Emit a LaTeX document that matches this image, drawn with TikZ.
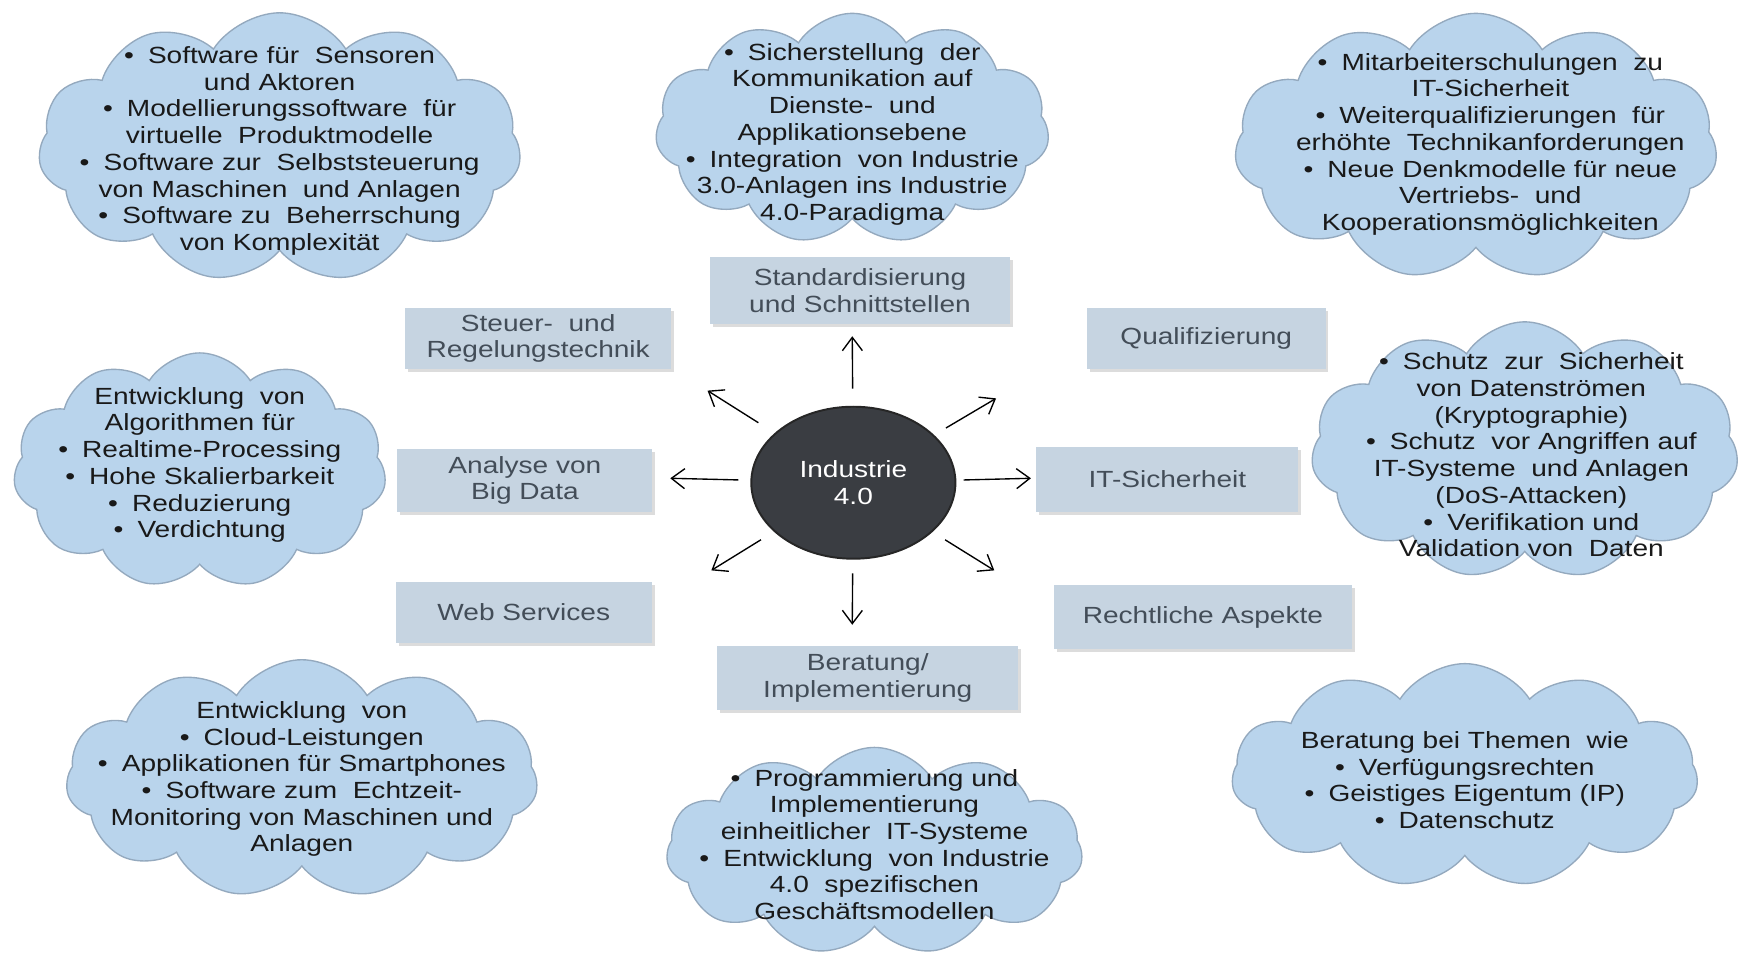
\documentclass[tikz,border=0pt]{standalone}
\usepackage{fontspec}
\setmainfont[FakeStretch = 1.2]{Liberation Sans}
\usepackage{xcolor}
\usepackage{tikz}
\usetikzlibrary{shapes.symbols,shapes.geometric,shadows,arrows.meta}

\definecolor{cloudfill}{HTML}{B9D4EC}
\definecolor{cloudline}{HTML}{94A9BE}
\definecolor{boxfill}{HTML}{C6D4E1}
\definecolor{boxtext}{HTML}{434D58}
\definecolor{indfill}{HTML}{3A3D42}

\newcommand{\bul}{\textbullet\hspace{.6em}}

\tikzset{
  wolke/.style = {cloud, cloud puffs = 11, cloud puff arc = 115, draw = cloudline,
    fill = cloudfill, line width = .7pt, inner sep = 0pt},
  wolketext/.style = {align = center, text = black!90},
  thema/.style = {rectangle, fill = boxfill, text = boxtext, align = center,
    drop shadow = {shadow xshift = 1.5pt, shadow yshift = -1.5pt, fill = black!45, opacity = .3}},
  pfeil/.style = {-{Straight Barb[length = 2.4mm, width = 3.6mm]}, line width = .7pt},
}

\begin{document}
\begin{tikzpicture}[x = 0.02cm, y = -0.02cm, font = \fontsize{12}{13.7}\selectfont]

    \fill[white] (0,0) rectangle (1568,862);
    \useasboundingbox (0,0) rectangle (1568,862);

    % Center
    \node[ellipse, fill = indfill, draw = black!85, line width = 1pt, minimum width = 3.68cm,
      minimum height = 2.74cm, text = white, align = center] (ind) at (769,435) {Industrie\\4.0};

    % Topics
    \node[thema, minimum width = 5.4cm, minimum height = 1.2cm] (std) at (775,262) {Standardisierung\\und Schnittstellen};
    \node[thema, minimum width = 4.8cm, minimum height = 1.1cm] (steuer) at (485,305) {Steuer- \ und\\Regelungstechnik};
    \node[thema, minimum width = 4.3cm, minimum height = 1.1cm] (quali) at (1087,305) {Qualifizierung};
    \node[thema, minimum width = 4.6cm, minimum height = 1.14cm] (bigdata) at (473,433) {Analyse von\\Big Data};
    \node[thema, minimum width = 4.72cm, minimum height = 1.18cm] (itsec) at (1052,432) {IT-Sicherheit};
    \node[thema, minimum width = 4.62cm, minimum height = 1.1cm] (web) at (472,552) {Web Services};
    \node[thema, minimum width = 5.36cm, minimum height = 1.16cm] (recht) at (1084,556) {Rechtliche Aspekte};
    \node[thema, minimum width = 5.42cm, minimum height = 1.14cm] (berat) at (782,611) {Beratung/\\Implementierung};

    % Arrow tips
    \coordinate (pN) at (768,303);
    \coordinate (pS) at (768,563);
    \coordinate (pW) at (604,431);
    \coordinate (pE) at (929,431);
    \coordinate (pNW) at (637.6,352);
    \coordinate (pNE) at (897.6,359);
    \coordinate (pSW) at (641,514);
    \coordinate (pSE) at (896,514);

    \draw[pfeil, shorten <= 8.8pt] (ind) -- (pN);
    \draw[pfeil, shorten <= 7pt] (ind) -- (pS);
    \draw[pfeil, shorten <= 6.2pt] (ind) -- (pW);
    \draw[pfeil, shorten <= 3.7pt] (ind) -- (pE);
    \draw[pfeil, shorten <= 9.9pt] (ind) -- (pNW);
    \draw[pfeil, shorten <= 7pt] (ind) -- (pNE);
    \draw[pfeil, shorten <= 7.8pt] (ind) -- (pSW);
    \draw[pfeil, shorten <= 7.6pt] (ind) -- (pSE);

    % Clouds
    \node[wolke, minimum width = 8.7cm, minimum height = 4.86cm] (cTL) at (252,133) {};
    \node[wolke, minimum width = 7.1cm, minimum height = 4.16cm] (cTM) at (768,116) {};
    \node[wolke, minimum width = 8.7cm, minimum height = 4.8cm] (cTR) at (1330,132) {};
    \node[wolke, minimum width = 6.72cm, minimum height = 4.24cm] (cML) at (180,424) {};
    \node[wolke, minimum width = 7.7cm, minimum height = 4.64cm] (cMR) at (1374,406) {};
    \node[wolke, minimum width = 8.5cm, minimum height = 4.3cm] (cBL) at (272,702) {};
    \node[wolke, minimum width = 7.5cm, minimum height = 3.74cm] (cBM) at (788,767) {};
    \node[wolke, minimum width = 8.4cm, minimum height = 4.04cm] (cBR) at (1320,699) {};

    % Cloud texts
    \node[wolketext] (tTL) at (252,136) {\bul Software für \ Sensoren\\und Aktoren\\\bul Modellierungssoftware \ für\\virtuelle \ Produktmodelle\\\bul Software zur \ Selbststeuerung\\von Maschinen \ und Anlagen\\\bul Software zu \ Beherrschung\\von Komplexität};
    \node[wolketext] (tTM) at (768,121) {\bul Sicherstellung \ der\\Kommunikation auf\\Dienste- \ und\\Applikationsebene\\\bul Integration \ von Industrie\\3.0-Anlagen ins Industrie\\4.0-Paradigma};
    \node[wolketext] (tTR) at (1343,130) {\bul Mitarbeiterschulungen \ zu\\IT-Sicherheit\\\bul Weiterqualifizierungen \ für\\erhöhte \ Technikanforderungen\\\bul Neue Denkmodelle für neue\\Vertriebs- \ und\\Kooperationsmöglichkeiten};
    \node[wolketext] (tML) at (180,419) {Entwicklung \ von\\Algorithmen für\\\bul Realtime-Processing\\\bul Hohe Skalierbarkeit\\\bul Reduzierung\\\bul Verdichtung};
    \node[wolketext] (tMR) at (1380,410) {\bul Schutz \ zur \ Sicherheit\\von Datenströmen\\(Kryptographie)\\\bul Schutz \ vor Angriffen auf\\IT-Systeme \ und Anlagen\\(DoS-Attacken)\\\bul Verifikation und\\Validation von \ Daten};
    \node[wolketext] (tBL) at (272,702) {Entwicklung \ von\\\bul Cloud-Leistungen\\\bul Applikationen für Smartphones\\\bul Software zum \ Echtzeit-\\Monitoring von Maschinen und\\Anlagen};
    \node[wolketext] (tBM) at (788,761) {\bul Programmierung und\\Implementierung\\einheitlicher \ IT-Systeme\\\bul Entwicklung \ von Industrie\\4.0 \ spezifischen\\Geschäftsmodellen};
    \node[wolketext] (tBR) at (1320,703) {Beratung bei Themen \ wie\\\bul Verfügungsrechten\\\bul Geistiges Eigentum (IP)\\\bul Datenschutz};

\end{tikzpicture}
\end{document}
